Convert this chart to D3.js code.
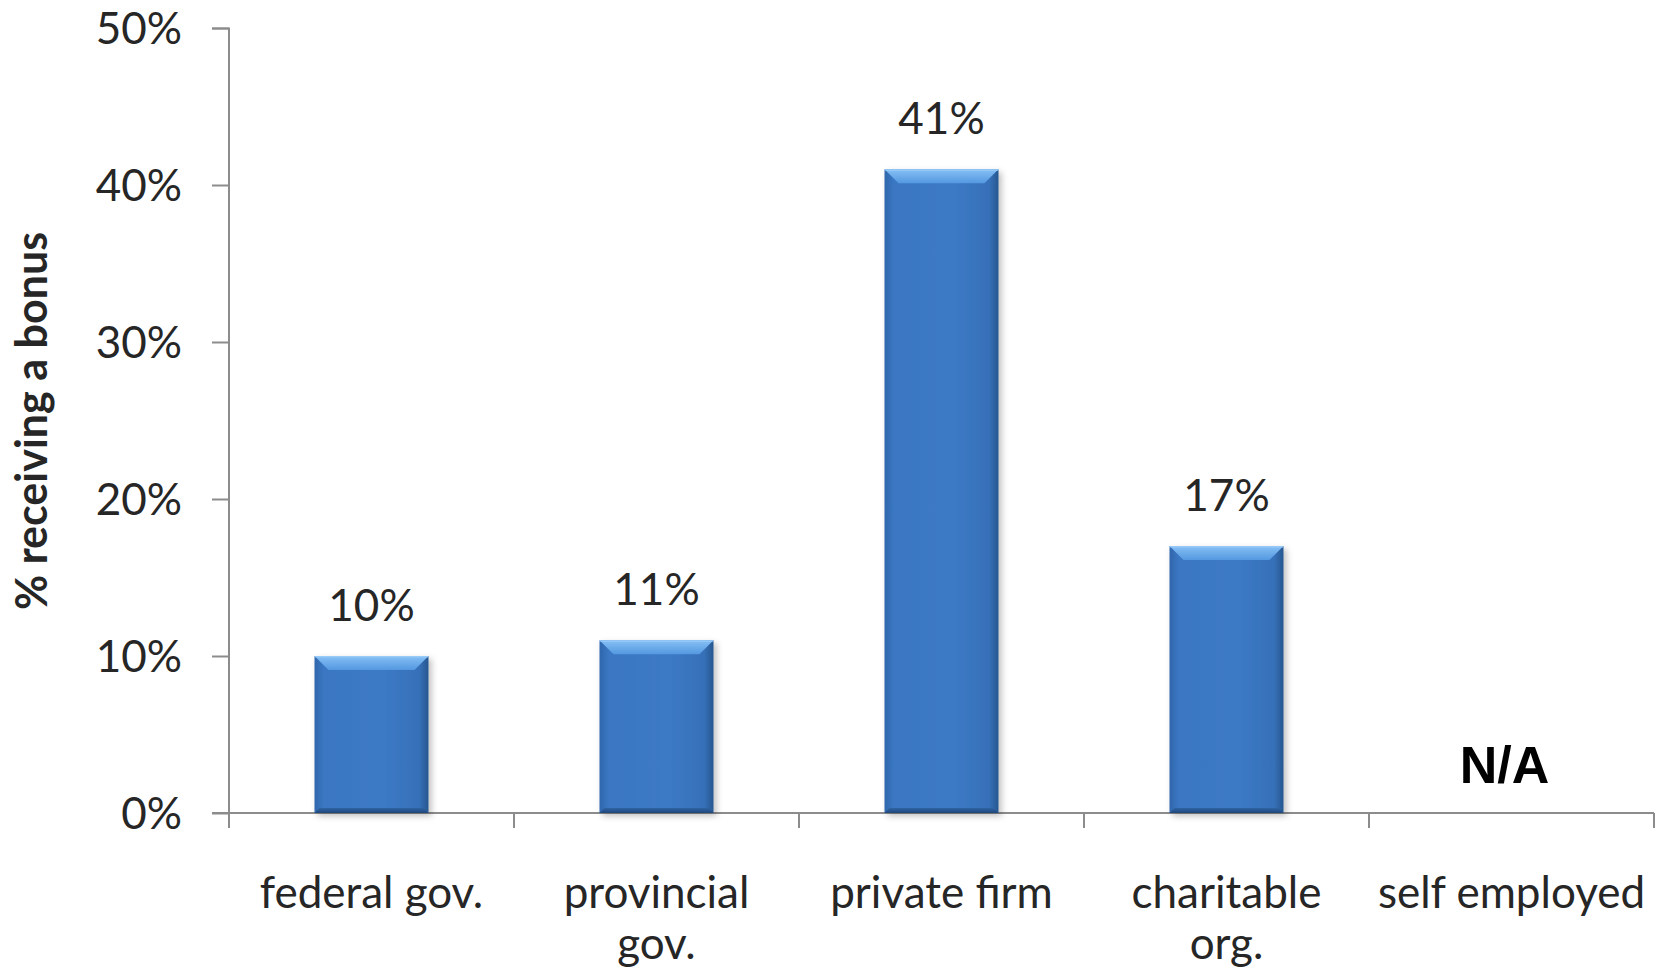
<!DOCTYPE html>
<html>
<head>
<meta charset="utf-8">
<script src="https://cdn.jsdelivr.net/npm/d3@7"></script>
<style>
  html, body { margin: 0; padding: 0; background: #fff; }
  svg { display: block; }
</style>
</head>
<body>
<script>
const categories = ["federal gov.", "provincial\ngov.", "private firm", "charitable\norg.", "self employed"];
const values = [10, 11, 41, 17, null];
const yTicks = [0, 10, 20, 30, 40, 50];
const yTitle = "% receiving a bonus";
const naLabel = "N/A";

const W = 1663, H = 973;
const svg = d3.select("body").append("svg").attr("width", W).attr("height", H);

const x = d3.scaleBand().domain(categories).range([229, 1654]).paddingInner(0.6).paddingOuter(0.3);
const y = d3.scaleLinear().domain([0, 50]).range([813, 28]);

const defs = svg.append("defs");
const gBody = defs.append("linearGradient").attr("id", "body").attr("x1", 0).attr("x2", 1).attr("y1", 0).attr("y2", 0);
gBody.append("stop").attr("offset", "0%").attr("stop-color", "#2f66ab");
gBody.append("stop").attr("offset", "8%").attr("stop-color", "#3a77c3");
gBody.append("stop").attr("offset", "60%").attr("stop-color", "#3c7ac6");
gBody.append("stop").attr("offset", "92%").attr("stop-color", "#3670b8");
gBody.append("stop").attr("offset", "100%").attr("stop-color", "#27578f");
const gTop = defs.append("linearGradient").attr("id", "topbev").attr("x1", 0).attr("x2", 0).attr("y1", 0).attr("y2", 1);
gTop.append("stop").attr("offset", "0%").attr("stop-color", "#86c0f5");
gTop.append("stop").attr("offset", "100%").attr("stop-color", "#5498e0");
const gBot = defs.append("linearGradient").attr("id", "botbev").attr("x1", 0).attr("x2", 0).attr("y1", 0).attr("y2", 1);
gBot.append("stop").attr("offset", "0%").attr("stop-color", "#2f63a4");
gBot.append("stop").attr("offset", "100%").attr("stop-color", "#1f477a");
const shadow = defs.append("filter").attr("id", "shadow").attr("x", "-20%").attr("y", "-10%").attr("width", "140%").attr("height", "120%");
shadow.append("feDropShadow").attr("dx", 3).attr("dy", 3).attr("stdDeviation", 3).attr("flood-color", "#000").attr("flood-opacity", 0.25);

// Y axis
const yAxis = svg.append("g").attr("transform", "translate(229,0)")
  .call(d3.axisLeft(y).tickValues(yTicks).tickSize(17).tickPadding(30).tickFormat(d => d + "%"));
yAxis.select(".domain").attr("stroke", "#8c8c8c").attr("stroke-width", 2).attr("d", "M-17,28.5H0V813");
yAxis.selectAll(".tick line").attr("stroke", "#8c8c8c").attr("stroke-width", 2);
yAxis.selectAll(".tick text").attr("font-family", "Lato, sans-serif").attr("font-size", 44).attr("fill", "#262626").attr("dy", "0.36em");

// X axis line and ticks at band boundaries
const xAxisG = svg.append("g");
xAxisG.append("line").attr("x1", 212).attr("x2", 1654).attr("y1", y(0)).attr("y2", y(0)).attr("stroke", "#8c8c8c").attr("stroke-width", 2);
const step = x.step();
const bounds = categories.map(c => x(c) - (step - x.bandwidth()) / 2);
bounds.push(bounds[bounds.length - 1] + step);
xAxisG.selectAll("line.tk").data(bounds).join("line").attr("class", "tk")
  .attr("x1", d => d).attr("x2", d => d).attr("y1", y(0)).attr("y2", y(0) + 15)
  .attr("stroke", "#8c8c8c").attr("stroke-width", 2);

// category labels
const catG = svg.append("g").attr("font-family", "Lato, sans-serif").attr("font-size", 44).attr("fill", "#262626").attr("text-anchor", "middle");
categories.forEach(c => {
  const t = catG.append("text").attr("x", x(c) + x.bandwidth() / 2).attr("y", 908);
  c.split("\n").forEach((line, i) => {
    t.append("tspan").attr("x", x(c) + x.bandwidth() / 2).attr("dy", i === 0 ? 0 : 51).text(line);
  });
});

// bars
const data = categories.map((c, i) => ({ c, v: values[i] }));
const barG = svg.append("g");
data.filter(d => d.v != null).forEach(d => {
  const x0 = x(d.c), w = x.bandwidth(), y0 = y(d.v), y1 = y(0), h = y1 - y0;
  const g = barG.append("g");
  g.append("rect").attr("x", x0).attr("y", y0).attr("width", w).attr("height", h).attr("fill", "url(#body)").attr("filter", "url(#shadow)");
  const b = 14, s = 5;
  g.append("path").attr("d", `M${x0},${y0}H${x0 + w}L${x0 + w - b},${y0 + b}H${x0 + b}Z`).attr("fill", "url(#topbev)");
  g.append("path").attr("d", `M${x0},${y1}H${x0 + w}L${x0 + w - s},${y1 - s}H${x0 + s}Z`).attr("fill", "url(#botbev)");
  g.append("rect").attr("x", x0).attr("y", y0).attr("width", w).attr("height", 1.5).attr("fill", "#9fd0fa").attr("opacity", 0.7);
});

// value labels
svg.append("g").selectAll("text").data(data.filter(d => d.v != null)).join("text")
  .attr("x", d => x(d.c) + x.bandwidth() / 2).attr("y", d => y(d.v) - 35)
  .attr("text-anchor", "middle").attr("font-family", "Lato, sans-serif").attr("font-size", 44).attr("fill", "#262626")
  .text(d => d.v + "%");

// N/A label
data.filter(d => d.v == null).forEach(d => {
  svg.append("text").attr("x", x(d.c) + x.bandwidth() / 2 - 7).attr("y", 783)
    .attr("text-anchor", "middle").attr("font-family", "'Liberation Sans', Arial, sans-serif").attr("font-weight", "bold")
    .attr("font-size", 52).attr("fill", "#000").text(naLabel);
});

// Y title
svg.append("text").attr("transform", "translate(47,421) rotate(-90)").attr("text-anchor", "middle")
  .attr("font-family", "Lato, sans-serif").attr("font-weight", "bold").attr("font-size", 43).attr("fill", "#262626")
  .text(yTitle);
</script>
</body>
</html>
